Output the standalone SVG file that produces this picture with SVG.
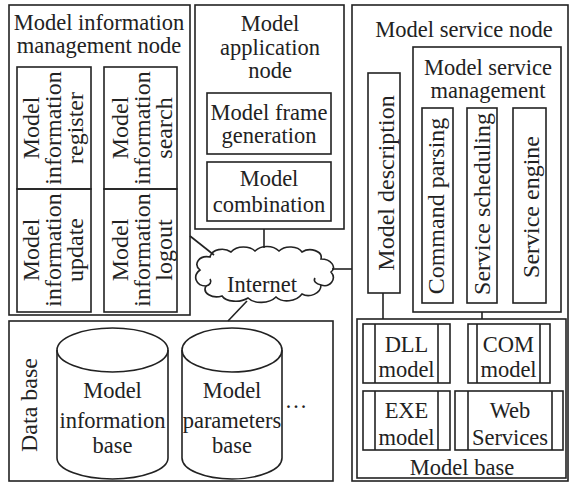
<svg xmlns="http://www.w3.org/2000/svg" width="570" height="482" viewBox="0 0 570 482" font-family="Liberation Serif">
  <style>
    .box { fill: none; stroke: #222; stroke-width: 1.6; }
    .line { fill: none; stroke: #222; stroke-width: 1.6; }
    .t { font-size: 22.5px; fill: #222; text-anchor: middle; }
    .v { font-size: 24px; fill: #222; text-anchor: middle; }
  </style>
  <rect width="570" height="482" fill="#fff"/>

  <!-- Model information management node -->
  <g id="info-management-node">
    <rect class="box" x="9" y="5" width="181" height="310"/>
    <text class="t" x="99" y="30">Model information</text>
    <text class="t" x="99" y="53">management node</text>
    <g id="info-register">
      <rect class="box" x="17" y="67" width="74" height="122"/>
      <text class="v" transform="translate(39,128) rotate(-90)"><tspan x="0" dy="0">Model</tspan><tspan x="0" dy="22">information</tspan><tspan x="0" dy="22">register</tspan></text>
    </g>
    <g id="info-search">
      <rect class="box" x="104" y="67" width="73" height="122"/>
      <text class="v" transform="translate(128,128) rotate(-90)"><tspan x="0" dy="0">Model</tspan><tspan x="0" dy="22">information</tspan><tspan x="0" dy="22">search</tspan></text>
    </g>
    <g id="info-update">
      <rect class="box" x="17" y="189" width="74" height="123"/>
      <text class="v" transform="translate(39,250) rotate(-90)"><tspan x="0" dy="0">Model</tspan><tspan x="0" dy="22">information</tspan><tspan x="0" dy="22">update</tspan></text>
    </g>
    <g id="info-logout">
      <rect class="box" x="104" y="189" width="73" height="123"/>
      <text class="v" transform="translate(128,250) rotate(-90)"><tspan x="0" dy="0">Model</tspan><tspan x="0" dy="22">information</tspan><tspan x="0" dy="22">logout</tspan></text>
    </g>
  </g>

  <!-- Model application node -->
  <g id="application-node">
    <rect class="box" x="195" y="5" width="149" height="224"/>
    <text class="t" x="270" y="31">Model</text>
    <text class="t" x="270" y="55">application</text>
    <text class="t" x="270" y="78">node</text>
    <g id="frame-generation">
      <rect class="box" x="207" y="93" width="124" height="61"/>
      <text class="t" x="269" y="120">Model frame</text>
      <text class="t" x="269" y="143">generation</text>
    </g>
    <g id="model-combination">
      <rect class="box" x="207" y="162" width="124" height="59"/>
      <text class="t" x="269" y="186">Model</text>
      <text class="t" x="269" y="212">combination</text>
    </g>
  </g>

  <!-- Internet cloud -->
  <g id="internet">
    <path class="line" fill="#fff" d="M 200 270
      C 193 264, 199 255, 210 257
      C 212 249, 224 247, 231 252
      C 237 245, 250 246, 255 251
      C 261 245, 273 245, 279 251
      C 285 245, 298 246, 302 252
      C 310 247, 323 251, 321 259
      C 331 259, 337 267, 331 272
      C 337 279, 330 288, 321 285
      C 321 294, 309 298, 302 294
      C 296 302, 282 303, 276 297
      C 269 304, 254 304, 248 298
      C 240 303, 226 302, 222 296
      C 212 299, 202 293, 206 286
      C 196 286, 192 276, 200 270 Z"/>
    <path class="line" d="M 206 286 C 210 285, 212 282, 210 279"/>
    <path class="line" d="M 321 285 C 316 284, 313 281, 315 278"/>
    <text class="t" x="262" y="292">Internet</text>
  </g>

  <!-- Data base -->
  <g id="data-base">
    <rect class="box" x="9" y="321" width="324" height="160"/>
    <text class="v" transform="translate(37,405) rotate(-90)">Data base</text>
    <g id="model-information-base">
      <path class="box" d="M 57 350 L 57 458 A 55.5 21 0 0 0 168 458 L 168 350"/>
      <ellipse class="box" cx="112.5" cy="350" rx="55.5" ry="22"/>
      <text class="t" x="112.5" y="398">Model</text>
      <text class="t" x="112.5" y="428">information</text>
      <text class="t" x="112.5" y="453">base</text>
    </g>
    <g id="model-parameters-base">
      <path class="box" d="M 182 350 L 182 458 A 50 21 0 0 0 282 458 L 282 350"/>
      <ellipse class="box" cx="232" cy="350" rx="50" ry="22"/>
      <text class="t" x="232" y="398">Model</text>
      <text class="t" x="232" y="428">parameters</text>
      <text class="t" x="232" y="453">base</text>
    </g>
    <text class="t" x="296" y="408">…</text>
  </g>

  <!-- Model service node -->
  <g id="service-node">
    <rect class="box" x="352" y="5" width="216" height="476"/>
    <text class="t" x="464" y="37">Model service node</text>
    <g id="model-description">
      <rect class="box" x="368" y="73" width="32" height="220"/>
      <text class="v" transform="translate(394,183) rotate(-90)">Model description</text>
    </g>
    <g id="service-management">
      <rect class="box" x="413" y="47" width="148" height="265"/>
      <text class="t" x="488" y="75">Model service</text>
      <text class="t" x="488" y="98">management</text>
      <g id="command-parsing">
        <rect class="box" x="422" y="108" width="31" height="195"/>
        <text class="v" transform="translate(444,206) rotate(-90)">Command parsing</text>
      </g>
      <g id="service-scheduling">
        <rect class="box" x="467" y="108" width="30" height="195"/>
        <text class="v" transform="translate(490,204) rotate(-90)">Service scheduling</text>
      </g>
      <g id="service-engine">
        <rect class="box" x="513" y="108" width="33" height="195"/>
        <text class="v" transform="translate(539,207) rotate(-90)">Service engine</text>
      </g>
    </g>
    <g id="model-base">
      <rect class="box" x="357" y="319" width="209" height="159"/>
      <g id="dll-model">
        <rect class="box" x="363" y="324" width="87" height="59"/>
        <path class="line" d="M 375 324 V 383 M 438 324 V 383"/>
        <text class="t" x="406.5" y="352">DLL</text>
        <text class="t" x="406.5" y="377">model</text>
      </g>
      <g id="com-model">
        <rect class="box" x="468" y="324" width="82" height="59"/>
        <path class="line" d="M 477 324 V 383 M 540 324 V 383"/>
        <text class="t" x="508.5" y="352">COM</text>
        <text class="t" x="508.5" y="377">model</text>
      </g>
      <g id="exe-model">
        <rect class="box" x="363" y="391" width="87" height="59"/>
        <path class="line" d="M 375 391 V 450 M 438 391 V 450"/>
        <text class="t" x="406.5" y="418">EXE</text>
        <text class="t" x="406.5" y="445">model</text>
      </g>
      <g id="web-services">
        <rect class="box" x="455" y="391" width="108" height="59"/>
        <path class="line" d="M 468 391 V 450 M 552 391 V 450"/>
        <text class="t" x="510" y="418">Web</text>
        <text class="t" x="510" y="445">Services</text>
      </g>
      <text class="t" x="462" y="475">Model base</text>
    </g>
  </g>

  <!-- Connectors -->
  <g id="connectors">
    <line class="line" x1="190" y1="236" x2="214" y2="255"/>
    <line class="line" x1="264" y1="229" x2="264" y2="248"/>
    <line class="line" x1="332" y1="269" x2="352" y2="269"/>
    <line class="line" x1="247" y1="301" x2="228" y2="321"/>
    <line class="line" x1="383" y1="293" x2="383" y2="319"/>
    <line class="line" x1="482" y1="312" x2="482" y2="319"/>
  </g>
</svg>
